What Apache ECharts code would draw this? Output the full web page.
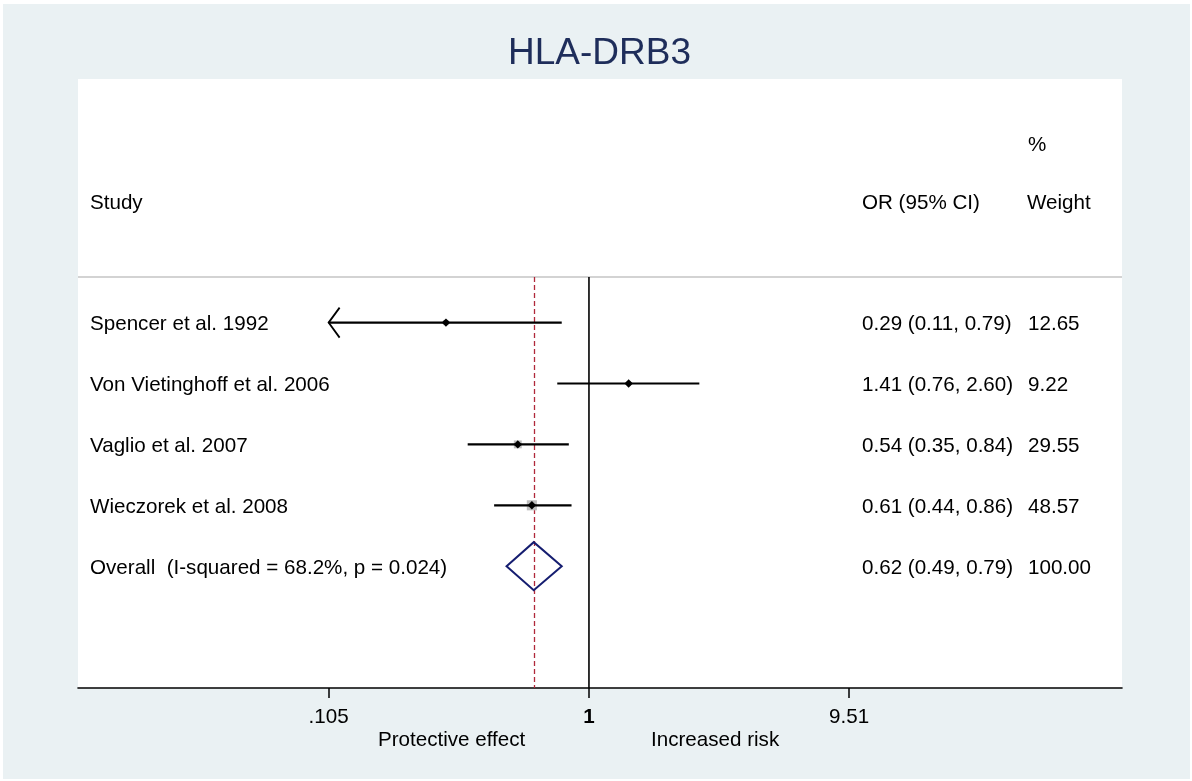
<!DOCTYPE html>
<html>
<head>
<meta charset="utf-8">
<script src="https://cdn.jsdelivr.net/npm/echarts@6/dist/echarts.min.js"></script>
<style>
html,body{margin:0;padding:0;background:#fff;}
#chart{width:1192px;height:781px;}
</style>
</head>
<body>
<div id="chart"></div>
<script>
// ---- data ----
const studies = ['Spencer et al. 1992', 'Von Vietinghoff et al. 2006', 'Vaglio et al. 2007', 'Wieczorek et al. 2008'];
const orValues = [0.29, 1.41, 0.54, 0.61];
const ciLow = [0.11, 0.76, 0.35, 0.44];
const ciHigh = [0.79, 2.60, 0.84, 0.86];
const weights = [12.65, 9.22, 29.55, 48.57];
const ciBeyondLeft = [true, false, false, false];
const overallLabel = 'Overall  (I-squared = 68.2%, p = 0.024)';
const overallOR = 0.62;
const overallLow = 0.49;
const overallHigh = 0.79;
const overallWeight = 100.00;
const tickValues = [0.105, 1, 9.51];
const tickLabels = ['.105', '1', '9.51'];
const titleText = 'HLA-DRB3';

// ---- helpers ----
const L = v => Math.log10(v);
const FONT = '"Liberation Sans", Arial, sans-serif';
const FS = 20.6;
const fmt2 = v => v.toFixed(2);
const ciText = (o, l, h) => fmt2(o) + ' (' + fmt2(l) + ', ' + fmt2(h) + ')';

const rows = studies.map((s, i) => [i, orValues[i], ciLow[i], ciHigh[i], weights[i], ciBeyondLeft[i] ? 1 : 0]);
const overallRow = studies.length;

const COL_STUDY = 90, COL_CI = 862, COL_W = 1028;
const SEP_Y = -0.75;

function txt(text, x, y, align) {
  return {type: 'text', style: {text: text, x: x, y: y, align: align || 'left', verticalAlign: 'middle',
    fontSize: FS, fontFamily: FONT, fill: '#000'}};
}

const chart = echarts.init(document.getElementById('chart'), null, {renderer: 'canvas'});
const option = {
  backgroundColor: '#ffffff',
  animation: false,
  title: {
    text: titleText, left: 508, top: 35, padding: 0,
    textStyle: {fontSize: 37, fontWeight: 'normal', color: '#1e2d5a', fontFamily: FONT}
  },
  graphic: [
    {type: 'rect', z: -100, shape: {x: 3, y: 4, width: 1187, height: 775}, style: {fill: '#eaf1f3'}},
    {type: 'text', left: 378, top: 730, style: {text: 'Protective effect', fontSize: FS, fontFamily: FONT, fill: '#000'}},
    {type: 'text', left: 651, top: 730, style: {text: 'Increased risk', fontSize: FS, fontFamily: FONT, fill: '#000'}}
  ],
  grid: {left: 78, right: 70, top: 79, bottom: 93, show: true, backgroundColor: '#ffffff', borderWidth: 0},
  xAxis: {
    type: 'value', min: -1.921, max: 2.004, position: 'bottom',
    axisLine: {show: true, onZero: false, lineStyle: {color: '#000', width: 1.6}},
    splitLine: {show: false},
    axisTick: {show: true, length: 10, customValues: tickValues.map(L), lineStyle: {color: '#000', width: 1.5}},
    axisLabel: {
      customValues: tickValues.map(L), margin: 19, fontSize: FS, fontFamily: FONT, color: '#000',
      formatter: function (v) {
        let best = 0;
        tickValues.forEach((t, i) => { if (Math.abs(L(t) - v) < Math.abs(L(tickValues[best]) - v)) best = i; });
        return tickValues[best] === 1 ? '{b|' + tickLabels[best] + '}' : tickLabels[best];
      },
      rich: {b: {fontSize: FS, fontFamily: FONT, fontWeight: 'bold', color: '#000'}}
    }
  },
  yAxis: {type: 'value', min: -4, max: 6, inverse: true, show: false},
  series: [
    {
      type: 'custom', z: 1, silent: true,
      data: [[0]],
      renderItem: function (params, api) {
        const cs = params.coordSys;
        const ySep = api.coord([0, SEP_Y])[1];
        const yBot = api.coord([0, 6])[1];
        const x1 = api.coord([L(1), 0])[0];
        const xo = Math.round(api.coord([L(overallOR), 0])[0]) + 0.5;
        return {type: 'group', children: [
          {type: 'line', shape: {x1: cs.x, y1: ySep, x2: cs.x + cs.width, y2: ySep}, style: {stroke: '#c4c4c4', lineWidth: 1.5}},
          {type: 'line', shape: {x1: x1, y1: ySep, x2: x1, y2: yBot}, style: {stroke: '#000', lineWidth: 1.6}},
          {type: 'line', shape: {x1: xo, y1: ySep, x2: xo, y2: yBot}, style: {stroke: '#b0283a', lineWidth: 1.3, lineDash: [5, 3]}}
        ]};
      }
    },
    {
      type: 'custom', z: 3, silent: true,
      data: rows,
      renderItem: function (params, api) {
        const row = api.value(0);
        const o = api.value(1), lo = api.value(2), hi = api.value(3), w = api.value(4), arrow = api.value(5);
        const loDraw = arrow ? tickValues[0] : lo;
        const p = api.coord([L(o), row]);
        const pl = api.coord([L(loDraw), row]);
        const ph = api.coord([L(hi), row]);
        const box = 1.45 * Math.sqrt(w);
        const r = 4.2;
        const ch = [
          {type: 'rect', shape: {x: p[0] - box / 2, y: p[1] - box / 2, width: box, height: box}, style: {fill: '#bdbdbd'}},
          {type: 'line', shape: {x1: pl[0], y1: pl[1], x2: ph[0], y2: ph[1]}, style: {stroke: '#000', lineWidth: 2.2}},
          {type: 'polygon', shape: {points: [[p[0] - r, p[1]], [p[0], p[1] - r], [p[0] + r, p[1]], [p[0], p[1] + r]]}, style: {fill: '#000'}}
        ];
        if (arrow) {
          ch.push({type: 'polyline', shape: {points: [[pl[0] + 11, pl[1] - 15], [pl[0], pl[1]], [pl[0] + 11, pl[1] + 15]]},
            style: {stroke: '#000', lineWidth: 1.8, fill: null}});
        }
        return {type: 'group', children: ch};
      }
    },
    {
      type: 'custom', z: 3, silent: true,
      data: [[overallRow, overallOR, overallLow, overallHigh]],
      renderItem: function (params, api) {
        const row = api.value(0);
        const p = api.coord([L(api.value(1)), row]);
        const pl = api.coord([L(api.value(2)), row]);
        const ph = api.coord([L(api.value(3)), row]);
        const hh = 24;
        return {type: 'polygon', shape: {points: [[pl[0], p[1]], [p[0], p[1] - hh], [ph[0], p[1]], [p[0], p[1] + hh]]},
          style: {stroke: '#151d70', lineWidth: 2, fill: null}};
      }
    },
    {
      type: 'custom', z: 4, silent: true,
      data: rows.map(r => [r[0]]).concat([[overallRow]]),
      renderItem: function (params, api) {
        const row = api.value(0);
        const y = api.coord([0, row])[1] + 2;
        let name, ci, w;
        if (row < studies.length) {
          name = studies[row]; ci = ciText(orValues[row], ciLow[row], ciHigh[row]); w = fmt2(weights[row]);
        } else {
          name = overallLabel; ci = ciText(overallOR, overallLow, overallHigh); w = fmt2(overallWeight);
        }
        const ch = [txt(name, COL_STUDY, y), txt(ci, COL_CI, y), txt(w, COL_W, y)];
        if (row === 0) {
          const yh1 = api.coord([0, -3])[1] + 5;
          const yh2 = api.coord([0, -2])[1] + 3;
          ch.push(txt('%', COL_W, yh1), txt('Study', COL_STUDY, yh2), txt('OR (95% CI)', COL_CI, yh2), txt('Weight', COL_W - 1, yh2));
        }
        return {type: 'group', children: ch};
      }
    }
  ]
};
chart.setOption(option);
</script>
</body>
</html>
